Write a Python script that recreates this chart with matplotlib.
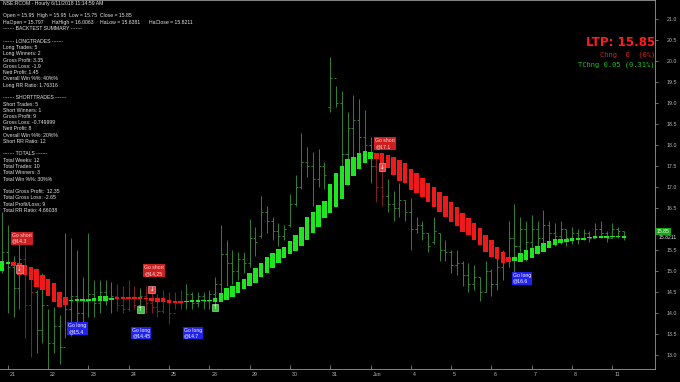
import numpy as np
import matplotlib
matplotlib.use("Agg")
import matplotlib.pyplot as plt
import matplotlib.transforms as mtransforms

# ---- raw hourly OHLC bars ----
bar_high = [16.40, 16.10, 15.35, 15.90, 15.60, 15.05, 14.55, 14.95, 14.10, 14.15,
            13.95, 15.90, 15.80, 15.50, 14.85, 15.90, 14.80, 14.80, 14.80, 14.75,
            14.70, 14.65, 14.80, 14.65, 14.60, 14.65, 14.55, 14.45, 14.55, 14.50,
            14.50, 14.55, 14.70, 14.50, 14.50, 14.50, 14.55, 14.85, 16.10, 15.75,
            15.50, 15.45, 15.45, 16.25, 16.05, 16.80, 16.55, 16.30, 16.15, 16.10,
            16.85, 17.30, 18.30, 17.95, 17.85, 17.90, 17.60, 20.10, 19.40, 19.30,
            18.80, 19.20, 19.10, 18.85, 18.20, 17.80, 17.50, 17.20, 16.90, 17.10,
            16.70, 16.75, 16.30, 16.20, 15.90, 16.30, 15.90, 15.75, 15.50, 15.50,
            15.25, 15.20, 15.15, 14.85, 15.25, 15.05, 15.35, 15.50, 16.20, 16.60,
            16.30, 16.20, 16.35, 16.20, 16.45, 16.20, 16.15, 16.20, 16.00, 16.05,
            16.00, 16.00, 15.95, 16.15, 16.20, 15.95, 16.15, 16.05, 15.95]
bar_low = [14.95, 14.00, 13.90, 14.10, 13.40, 12.95, 13.05, 13.30, 12.75, 13.05,
           12.80, 13.40, 13.45, 13.60, 13.70, 13.90, 13.90, 14.00, 14.20, 14.00,
           14.05, 14.00, 14.05, 14.10, 14.10, 14.00, 14.00, 13.90, 14.00, 13.75,
           14.10, 14.10, 14.10, 14.10, 14.15, 14.10, 14.10, 14.15, 14.40, 14.65,
           14.70, 14.80, 14.95, 15.10, 15.35, 15.80, 15.90, 15.75, 15.60, 15.75,
           16.05, 16.55, 16.95, 17.25, 16.55, 17.00, 16.95, 18.80, 18.90, 17.35,
           17.05, 17.50, 17.80, 17.70, 17.10, 16.65, 16.55, 16.40, 16.20, 16.30,
           16.20, 15.50, 15.90, 15.75, 15.45, 15.65, 15.25, 15.25, 14.95, 14.90,
           14.65, 14.50, 14.55, 14.30, 14.50, 14.40, 14.55, 14.80, 15.10, 14.80,
           15.45, 15.25, 15.50, 15.40, 15.60, 15.65, 15.60, 15.65, 15.60, 15.65,
           15.65, 15.75, 15.70, 15.80, 15.80, 15.70, 15.80, 15.80, 15.75]
bar_open = [15.10, 15.45, 15.10, 14.60, 15.30, 14.20, 14.50, 13.60, 14.20, 13.30,
            13.70, 13.20, 14.10, 14.40, 14.00, 14.30, 14.45, 14.25, 14.50, 14.35,
            14.40, 14.20, 14.10, 14.35, 14.20, 14.40, 14.25, 14.15, 14.05, 14.30,
            14.00, 14.25, 14.30, 14.45, 14.25, 14.40, 14.30, 14.45, 14.70, 15.40,
            15.20, 15.00, 15.30, 15.20, 15.80, 15.85, 16.40, 16.20, 15.95, 15.85,
            16.10, 16.60, 17.00, 17.60, 17.50, 17.20, 17.50, 18.90, 19.60, 19.00,
            17.80, 18.40, 18.60, 18.20, 18.00, 17.50, 17.00, 16.80, 16.60, 16.50,
            16.70, 16.40, 16.00, 16.10, 15.90, 15.70, 15.90, 15.50, 15.45, 15.15,
            15.20, 14.90, 14.70, 14.85, 14.50, 15.00, 14.70, 15.10, 15.30, 15.80,
            15.60, 16.00, 15.70, 16.00, 15.80, 16.10, 15.90, 15.85, 16.00, 15.80,
            15.90, 15.80, 15.90, 15.80, 16.00, 15.90, 15.80, 16.00, 15.95]
bar_close = [15.45, 15.10, 14.60, 15.30, 14.20, 14.50, 13.60, 14.20, 13.30, 13.70,
             13.20, 14.10, 14.40, 14.00, 14.30, 14.45, 14.25, 14.50, 14.35, 14.40,
             14.20, 14.10, 14.35, 14.20, 14.40, 14.25, 14.15, 14.05, 14.30, 14.00,
             14.25, 14.30, 14.45, 14.25, 14.40, 14.30, 14.45, 14.70, 15.40, 15.20,
             15.00, 15.30, 15.20, 15.80, 15.70, 16.40, 16.20, 15.95, 15.85, 16.00,
             16.60, 17.00, 17.60, 17.50, 17.20, 17.50, 17.30, 19.60, 19.00, 17.80,
             18.40, 18.60, 18.20, 18.00, 17.50, 17.00, 16.80, 16.60, 16.50, 16.70,
             16.40, 16.00, 16.10, 15.90, 15.60, 15.95, 15.50, 15.45, 15.15, 15.20,
             14.90, 14.70, 14.85, 14.50, 15.00, 14.70, 15.10, 15.30, 15.80, 15.60,
             16.00, 15.70, 16.00, 15.80, 16.10, 15.90, 15.85, 16.00, 15.80, 15.90,
             15.80, 15.90, 15.80, 16.00, 15.90, 15.80, 16.00, 15.95, 15.85]

# ---- smoothed Heikin-Ashi bodies ----
ha_open = [15.00, 15.17, 15.21, 15.20, 15.15, 15.10, 15.06, 14.91, 14.82, 14.72,
           14.51, 14.39, 14.28, 14.29, 14.30, 14.30, 14.29, 14.28, 14.30, 14.32,
           14.35, 14.35, 14.35, 14.35, 14.35, 14.35, 14.37, 14.37, 14.35, 14.32,
           14.30, 14.30, 14.26, 14.27, 14.27, 14.28, 14.28, 14.27, 14.27, 14.32,
           14.39, 14.48, 14.58, 14.65, 14.72, 14.87, 14.96, 15.08, 15.20, 15.32,
           15.41, 15.48, 15.60, 15.74, 15.91, 16.05, 16.27, 16.39, 16.53, 16.72,
           17.05, 17.27, 17.44, 17.58, 17.67, 17.82, 17.82, 17.77, 17.72, 17.65,
           17.58, 17.44, 17.34, 17.22, 17.10, 17.01, 16.89, 16.79, 16.65, 16.53,
           16.39, 16.27, 16.15, 16.03, 15.86, 15.74, 15.58, 15.46, 15.34, 15.24,
           15.22, 15.27, 15.32, 15.41, 15.46, 15.55, 15.62, 15.67, 15.69, 15.72,
           15.74, 15.75, 15.78, 15.79, 15.80, 15.80, 15.81, 15.81, 15.80]
ha_close = [15.25, 15.21, 15.13, 14.92, 14.92, 14.79, 14.63, 14.56, 14.41, 14.27,
            14.15, 14.20, 14.31, 14.32, 14.33, 14.34, 14.35, 14.40, 14.40, 14.36,
            14.34, 14.34, 14.34, 14.34, 14.34, 14.33, 14.29, 14.27, 14.27, 14.24,
            14.24, 14.24, 14.29, 14.30, 14.31, 14.31, 14.32, 14.36, 14.48, 14.60,
            14.65, 14.75, 14.82, 14.96, 15.08, 15.20, 15.34, 15.44, 15.53, 15.58,
            15.72, 15.86, 16.05, 16.29, 16.41, 16.58, 16.67, 17.08, 17.34, 17.50,
            17.67, 17.72, 17.82, 17.86, 17.84, 17.67, 17.53, 17.46, 17.29, 17.15,
            17.10, 16.94, 16.87, 16.77, 16.65, 16.53, 16.41, 16.30, 16.17, 16.08,
            15.94, 15.87, 15.74, 15.63, 15.46, 15.34, 15.29, 15.20, 15.22, 15.34,
            15.44, 15.51, 15.55, 15.60, 15.67, 15.72, 15.77, 15.77, 15.77, 15.79,
            15.79, 15.80, 15.81, 15.82, 15.82, 15.82, 15.83, 15.82, 15.82]

day_labels = ['21', '22', '23', '24', '25', '28', '29', '30', '31', 'Jun',
              '4', '5', '6', '7', '8', '11']
bars_per_day = 7

short_bars = [3, 26, 66]
short_marks = [15.05, 14.57, 17.48]
long_bars = [24, 37]
long_marks = [14.09, 14.14]

summary_lines = [
    "-~-~- BACKTEST SUMMARY -~-~-", "",
    "-~-~- LONGTRADES -~-~-", "Long Trades: 5", "Long Winners: 2",
    "Gross Profit: 3.35", "Gross Loss: -1.9", "Nett Profit: 1.45",
    "Overall Win %%: 40%%", "Long RR Ratio: 1.76316", "",
    "-~-~- SHORTTRADES -~-~-", "Short Trades: 5", "Short Winners: 1",
    "Gross Profit: 9", "Gross Loss: -0.749999", "Nett Profit: 8",
    "Overall Win %%: 20%%", "Short RR Ratio: 12", "",
    "-~-~- TOTALS -~-~-", "Total Weeks: 12", "Total Trades: 10",
    "Total Winners: 3", "Total Win %%: 30%%", "",
    "Total Gross Profit:  12.35", "Total Gross Loss: -2.65",
    "Total Profit/Loss: 9", "Total RR Ratio: 4.66038",
]

plt.rcParams['font.family'] = ['Liberation Sans', 'DejaVu Sans']

W, H = 680, 382
fig = plt.figure(figsize=(W / 100, H / 100), dpi=100, facecolor='black')
ax = fig.add_axes([0, 13 / H, 655 / W, 369 / H], facecolor='black')

idx = np.arange(len(bar_high))
bh, bl = np.array(bar_high), np.array(bar_low)
bo, bc = np.array(bar_open), np.array(bar_close)

# thin price bars
thin_red = {4, 5, 20, 21, 22, 23, 25, 26, 27, 28, 29, 30, 31, 65, 66}
thin_cols = ['#7e2222' if i in thin_red else '#358235' for i in idx]
ax.vlines(idx, bl, bh, colors=thin_cols, lw=0.7, zorder=2)
ax.hlines(bo, idx - 0.35, idx, colors=thin_cols, lw=0.7, zorder=2)
ax.hlines(bc, idx, idx + 0.35, colors=thin_cols, lw=0.7, zorder=2)

# heikin-ashi bodies
ho, hc = np.array(ha_open), np.array(ha_close)
up = hc >= ho
body_cols = np.where(up, '#1ee61e', '#ee1a1a')
heights = np.maximum(np.abs(hc - ho), 0.04)
ax.bar(idx, heights, bottom=np.minimum(ho, hc), width=0.78,
       color=body_cols, linewidth=0, zorder=3)

# signal arrows
for i, p in zip(short_bars, short_marks):
    ax.text(i, p, '↓', color='white', fontsize=4, ha='center', va='center',
            family='DejaVu Sans', zorder=5,
            bbox=dict(boxstyle='square,pad=0.2', fc='#e84040', ec='#ffb0b0', lw=0.4))
for i, p in zip(long_bars, long_marks):
    ax.text(i, p, '↑', color='white', fontsize=4, ha='center', va='center',
            family='DejaVu Sans', zorder=5,
            bbox=dict(boxstyle='square,pad=0.2', fc='#3cc03c', ec='#b0ffb0', lw=0.4))

# trade labels
notes = [("Go short\n@14.3", 1.7, 15.78, 'short'),
         ("Go short\n@14.25", 24.7, 15.01, 'short'),
         ("Go short\n@17.1", 64.8, 18.04, 'short'),
         ("Go long\n@15.4", 11.5, 13.63, 'long'),
         ("Go long\n@14.45", 22.6, 13.53, 'long'),
         ("Go long\n@14.7", 31.6, 13.53, 'long'),
         ("Go long\n@16.6", 88.7, 14.83, 'long')]
for txt, x, y, kind in notes:
    fc = '#cc1f1f' if kind == 'short' else '#2222ee'
    tc = '#ffdede' if kind == 'short' else '#ffffff'
    ax.text(x, y, txt, color=tc, fontsize=3.7, ha='left', va='center',
            linespacing=1.15, zorder=6,
            bbox=dict(boxstyle='square,pad=0.2', fc=fc, ec='none'))

ax.set_xlim(-0.35, 113.4)
ax.set_ylim(12.67, 21.46)

# axes styling
ax.spines['left'].set_visible(False)
for s in ['right', 'bottom', 'top']:
    ax.spines[s].set_color('#9a9a9a')
    ax.spines[s].set_linewidth(0.6)

ax.yaxis.tick_right()
yt = np.arange(13.0, 21.01, 0.5)
ax.set_yticks(yt)
# the 16.0 label sits under the last-price tag
ax.set_yticklabels(["" if abs(v - 16.0) < 1e-9 else f"{v:.1f}" for v in yt])
ax.tick_params(axis='y', colors='#9a9a9a', labelcolor='#b8b8b8', labelsize=3.8,
               length=2.5, width=0.5, pad=6)

tick_pos = [1 + bars_per_day * d for d in range(len(day_labels))]
ax.set_xticks(tick_pos)
ax.set_xticklabels(day_labels)
ax.tick_params(axis='x', colors='#9a9a9a', labelcolor='#b8b8b8', labelsize=3.8,
               length=3, width=0.5, direction='in', pad=2)
offset = mtransforms.ScaledTranslation(2 / 100, 0, fig.dpi_scale_trans)
for lab in ax.get_xticklabels():
    lab.set_ha('left')
    lab.set_transform(lab.get_transform() + offset)

# right side price tags
tr = mtransforms.blended_transform_factory(ax.transAxes, ax.transData)
ax.text(1.003, 15.95, '15.85', transform=tr, color='white', fontsize=3.7,
        ha='left', va='center', clip_on=False, zorder=7,
        bbox=dict(boxstyle='square,pad=0.15', fc='#18a818', ec='none'))
ax.text(1.005, 15.80, '15.8211', transform=tr, color='#e8e8e8', fontsize=3.7,
        ha='left', va='center', clip_on=False, zorder=7)


def fy(py):
    return 1 - py / H


txt_col = '#e6e6e6'
fs = 3.7
fig.text(3 / W, fy(4), "NSE:RCOM - Hourly 6/11/2018 11:14:59 AM", color=txt_col,
         fontsize=fs, va='center')
fig.text(3 / W, fy(15.7), "Open = 15.95  High = 15.95  Low = 15.75  Close = 15.85",
         color=txt_col, fontsize=fs, va='center')
for x, t in zip([3, 52, 100, 149],
                ["HaOpen = 15.797", "HaHigh = 16.0063", "HaLow = 15.6381",
                 "HaClose = 15.8211"]):
    fig.text(x / W, fy(22.3), t, color=txt_col, fontsize=fs, va='center')
for k, line in enumerate(summary_lines):
    if line:
        fig.text(3 / W, fy(29 + 6.25 * k), line, color=txt_col, fontsize=fs,
                 va='center')

# last traded price box
fig.text(655 / W, fy(42.5), "LTP: 15.85", color='#ff1c1c', fontsize=8.6,
         fontweight='bold', family='DejaVu Sans', ha='right', va='center')
fig.text(655 / W, fy(55), "Chng  0  (0%)", color='#e02020', fontsize=5.1,
         family='DejaVu Sans Mono', ha='right', va='center')
fig.text(655 / W, fy(65), "TChng 0.05 (0.31%)", color='#22c022', fontsize=5.1,
         family='DejaVu Sans Mono', ha='right', va='center')

fig.savefig('out.png', dpi=100, facecolor='black')
